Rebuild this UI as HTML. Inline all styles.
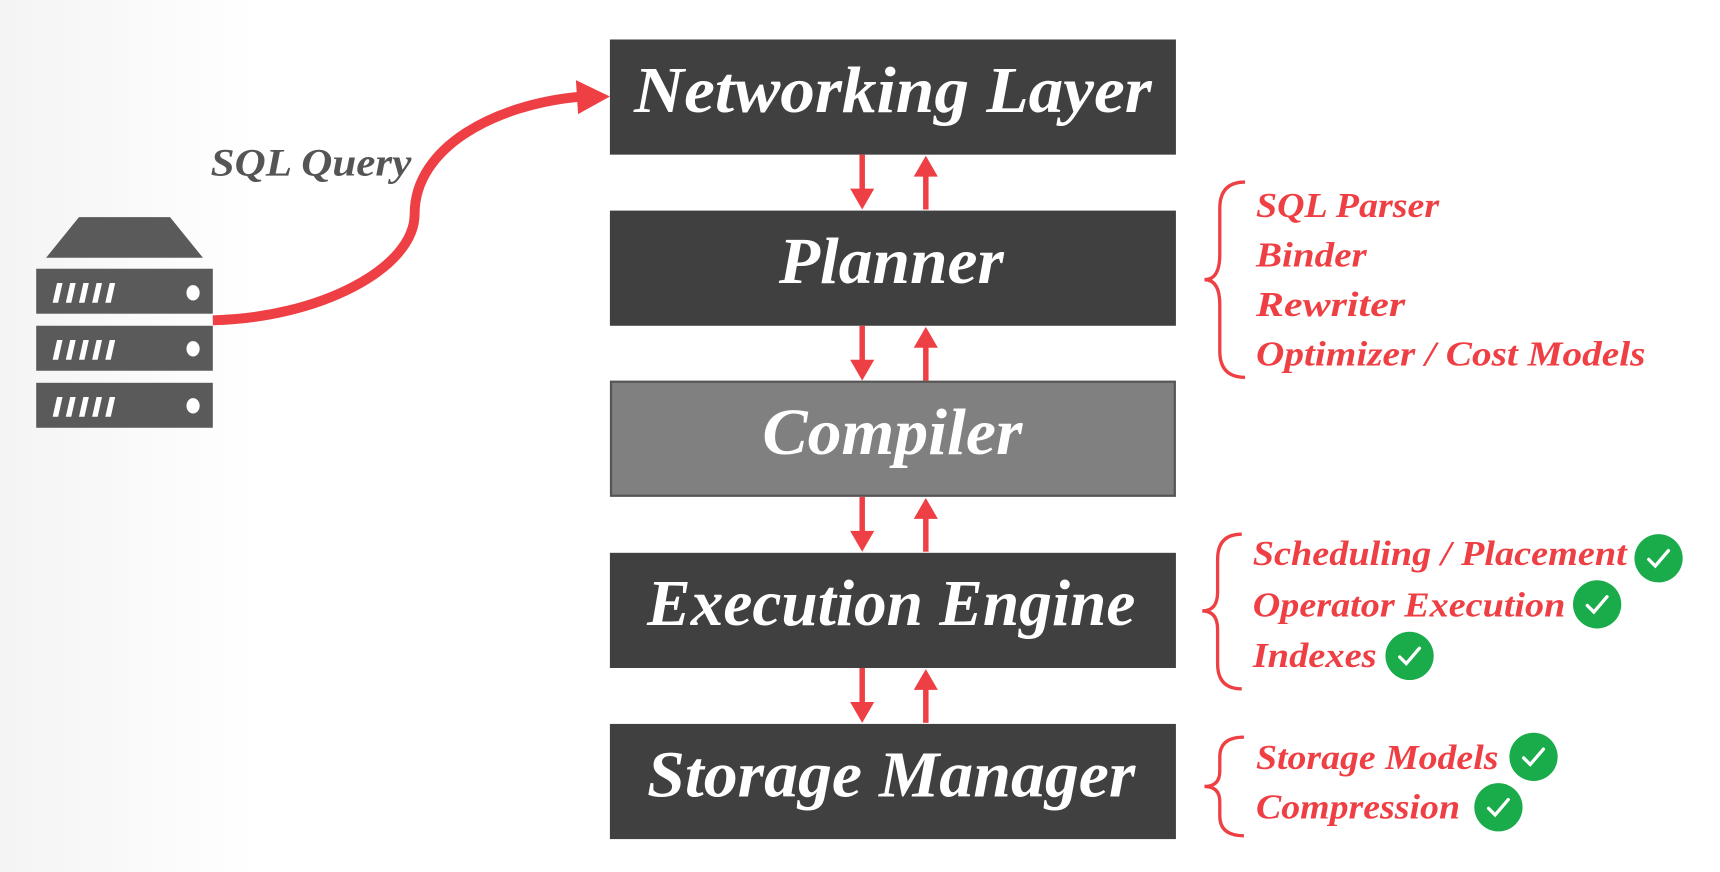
<!DOCTYPE html>
<html><head><meta charset="utf-8"><style>
html,body{margin:0;padding:0;width:1720px;height:872px;overflow:hidden;background:#fff}
svg{display:block}
text{font-family:"Liberation Serif",serif;font-style:italic;font-weight:bold}
</style></head><body>
<svg width="1720" height="872" viewBox="0 0 1568 795" preserveAspectRatio="none">
<defs><linearGradient id="bg" x1="0" y1="0" x2="1" y2="0"><stop offset="0" stop-color="#f4f4f4"/><stop offset="0.15" stop-color="#fff"/></linearGradient></defs>
<rect width="1568" height="795" fill="url(#bg)"/>
<polygon points="42,235 72,198 155,198 185,235" fill="#5a5a5a"/>
<g fill="#5a5a5a">
<rect x="33" y="245" width="161" height="41"/><rect x="33" y="297" width="161" height="41"/><rect x="33" y="349" width="161" height="41"/>
</g>
<g fill="#fff">
<g id="st"><polygon points="48,276 52,258 57,258 53,276"/><polygon points="60,276 64,258 69,258 65,276"/><polygon points="72,276 76,258 81,258 77,276"/><polygon points="84,276 88,258 93,258 89,276"/><polygon points="96,276 100,258 105,258 101,276"/></g>
<use href="#st" y="52"/><use href="#st" y="104"/>
<ellipse cx="176" cy="267" rx="6" ry="7"/><ellipse cx="176" cy="318" rx="6" ry="7"/><ellipse cx="176" cy="370" rx="6" ry="7"/>
</g>
<path d="M194 292 C290 290 378 245 378 195 C378 135 450 95 530 88" fill="none" stroke="#ee4044" stroke-width="9"/>
<polygon points="525,73 556,88 527,104" fill="#ee4044"/>
<text x="192" y="160" font-size="36" fill="#555" textLength="183" lengthAdjust="spacingAndGlyphs">SQL Query</text>
<g fill="#404040"><rect x="556" y="36" width="516" height="105"/><rect x="556" y="192" width="516" height="105"/><rect x="556" y="504" width="516" height="105"/><rect x="556" y="660" width="516" height="105"/></g>
<rect x="557" y="348" width="514" height="104" fill="#808080" stroke="#555" stroke-width="2"/>
<g fill="#fff" font-size="60" lengthAdjust="spacingAndGlyphs">
<text x="578" y="102" textLength="472" lengthAdjust="spacingAndGlyphs">Networking Layer</text>
<text x="710" y="258" textLength="205" lengthAdjust="spacingAndGlyphs">Planner</text>
<text x="695" y="414" textLength="237" lengthAdjust="spacingAndGlyphs">Compiler</text>
<text x="590" y="570" textLength="445" lengthAdjust="spacingAndGlyphs">Execution Engine</text>
<text x="590" y="726" textLength="445" lengthAdjust="spacingAndGlyphs">Storage Manager</text>
</g>
<g stroke="#ee4044" stroke-width="5" fill="#ee4044">
<g id="ar"><line x1="786" y1="141" x2="786" y2="176"/><polygon points="775,172 797,172 786,191" stroke="none"/><line x1="844" y1="191" x2="844" y2="158"/><polygon points="833,161 855,161 844,142" stroke="none"/></g>
<use href="#ar" y="156"/><use href="#ar" y="312"/><use href="#ar" y="468"/>
</g>
<g fill="none" stroke="#ee4044" stroke-width="3">
<path d="M1135 166 Q1112 166 1112 190 L1112 232 Q1112 255 1098 255 Q1112 255 1112 278 L1112 320 Q1112 344 1135 344"/>
<path d="M1132 487 Q1110 487 1110 510 L1110 540 Q1110 557 1096 557 Q1110 557 1110 574 L1110 605 Q1110 628 1132 628"/>
<path d="M1134 672 Q1112 672 1112 690 L1112 703 Q1112 717 1098 717 Q1112 717 1112 731 L1112 744 Q1112 762 1134 762"/>
</g>
<g fill="#ee4044" font-size="32">
<text x="1145" y="198" textLength="167" lengthAdjust="spacingAndGlyphs">SQL Parser</text>
<text x="1145" y="243" textLength="101" lengthAdjust="spacingAndGlyphs">Binder</text>
<text x="1145" y="288" textLength="136" lengthAdjust="spacingAndGlyphs">Rewriter</text>
<text x="1145" y="333" textLength="355" lengthAdjust="spacingAndGlyphs">Optimizer / Cost Models</text>
<text x="1142" y="515" textLength="341" lengthAdjust="spacingAndGlyphs">Scheduling / Placement</text>
<text x="1142" y="562" textLength="285" lengthAdjust="spacingAndGlyphs">Operator Execution</text>
<text x="1142" y="608" textLength="113" lengthAdjust="spacingAndGlyphs">Indexes</text>
<text x="1145" y="701" textLength="221" lengthAdjust="spacingAndGlyphs">Storage Models</text>
<text x="1145" y="746" textLength="186" lengthAdjust="spacingAndGlyphs">Compression</text>
</g>
<g fill="#1aab4b"><circle cx="1512" cy="509" r="22"/><circle cx="1456" cy="551" r="22"/><circle cx="1285" cy="598" r="22"/><circle cx="1398" cy="690" r="22"/><circle cx="1366" cy="736" r="22"/></g>
<g fill="none" stroke="#fff" stroke-width="3" stroke-linecap="round">
<path d="M1503 510 l6 6 l12 -14"/><path d="M1447 552 l6 6 l12 -14"/><path d="M1276 599 l6 6 l12 -14"/><path d="M1389 691 l6 6 l12 -14"/><path d="M1357 737 l6 6 l12 -14"/>
</g>
</svg>
</body></html>
